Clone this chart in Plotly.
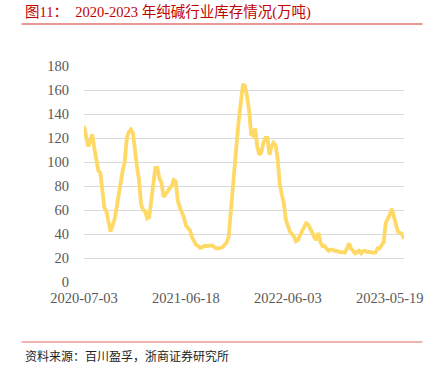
import plotly.graph_objects as go
import pandas as pd

start_date = "2020-07-03"
inventory = [
    130, 122, 113, 117, 123, 112, 102, 93, 91, 77,
    62, 59, 50, 42, 47, 52, 62, 73, 83, 93,
    100, 120, 125, 127, 124, 108, 96, 85, 65, 60,
    59, 53, 54, 68, 80, 95, 95, 86, 83, 71,
    73, 76, 78, 80, 85, 84, 68, 62, 58, 54,
    47, 45, 43, 37, 33, 31, 30, 28.5, 29, 30,
    30, 30, 30.5, 30.5, 29, 28, 28, 28.5, 29, 31,
    33, 38, 60, 80, 100, 118, 136, 150, 165, 163,
    155, 143, 123, 122, 128, 113, 106, 108, 116, 120,
    120, 106, 113, 116, 114, 103, 82, 73, 66, 52,
    46, 42, 40, 38, 34, 35, 39, 43, 47, 49,
    48, 45, 41, 37, 35, 41, 33, 30, 30, 28,
    26, 27, 27, 26, 26, 25, 25, 25, 24.5, 28,
    32, 28, 26, 24, 25, 26, 24, 26, 26, 25,
    25, 24.5, 24.5, 24.5, 28, 28, 31, 33, 49, 52,
    56, 61, 54, 46, 42, 41, 40, 36,
]
dates = pd.date_range(start_date, periods=len(inventory), freq="7D")
tick_labels = ["2020-07-03", "2021-06-18", "2022-06-03", "2023-05-19"]
y_ticks = list(range(0, 181, 20))

W, H = 435, 370
L, R, T, B = 84, 412, 66, 282

def px(x):
    return (x - L) / (R - L)

def py(y):
    return (B - y) / (B - T)

fig = go.Figure()
fig.add_trace(go.Scatter(
    x=dates, y=inventory, mode="lines",
    line=dict(color="#FFD966", width=3.8), hoverinfo="x+y",
))

serif = "Liberation Serif, Times New Roman, Noto Sans CJK SC"
fig.update_layout(
    width=W, height=H,
    margin=dict(l=L, r=W - R, t=T, b=H - B),
    paper_bgcolor="white", plot_bgcolor="white",
    showlegend=False,
    xaxis=dict(
        range=[dates[0], dates[-1]],
        tickvals=pd.to_datetime(tick_labels), ticktext=tick_labels,
        showgrid=False, zeroline=False, showline=False, ticks="",
        tickfont=dict(family=serif, size=14.5, color="#595959"),
        ticklabelstandoff=5,
    ),
    yaxis=dict(
        range=[0, 180], tickvals=y_ticks,
        showgrid=True, gridcolor="#D9D9D9", gridwidth=1,
        zeroline=False, showline=False, ticks="",
        tickfont=dict(family=serif, size=14.5, color="#595959"),
        ticklabelstandoff=14,
    ),
    annotations=[
        dict(text="图11：  2020-2023 年纯碱行业库存情况(万吨)",
             xref="paper", yref="paper", x=px(21), y=py(12),
             xanchor="left", yanchor="middle", showarrow=False,
             font=dict(family=serif, size=14.5, color="#C00000")),
        dict(text="资料来源：百川盈孚，浙商证券研究所",
             xref="paper", yref="paper", x=px(21), y=py(355),
             xanchor="left", yanchor="middle", showarrow=False,
             font=dict(family="Noto Sans CJK SC", size=12, color="#222222")),
    ],
    shapes=[
        dict(type="line", xref="paper", yref="paper",
             x0=px(20), x1=px(431), y0=py(24), y1=py(24),
             line=dict(color="#D32F2F", width=1.2)),
        dict(type="line", xref="paper", yref="paper",
             x0=px(20), x1=px(431), y0=py(342), y1=py(342),
             line=dict(color="#E06666", width=1.2)),
    ],
)
fig.write_html(
    "out.html",
    config={"displayModeBar": False},
    post_script="document.body.style.margin='0';document.body.style.padding='0';",
)
